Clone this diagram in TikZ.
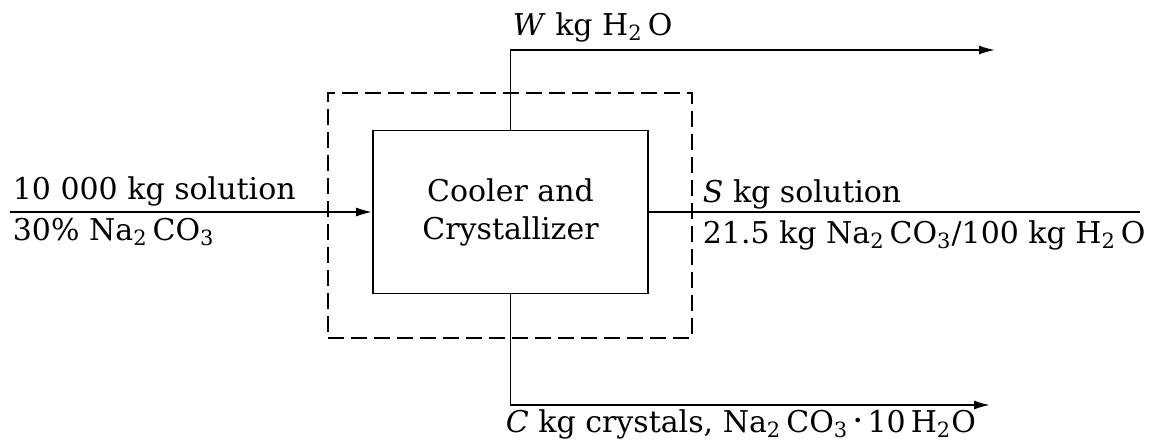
\documentclass[tikz,border=0pt]{standalone}
\usepackage{fontspec}
\setmainfont{DejaVu Serif}
\usetikzlibrary{arrows.meta}

\begin{document}
\begin{tikzpicture}[x=0.5pt,y=-0.5pt,line width=0.9pt,>={Latex[length=8pt,width=4.5pt]},
  lbl/.style={font=\fontsize{15}{19}\selectfont,inner sep=0pt}]
  \useasboundingbox (0,0) rectangle (1155,447);
  \node[draw,lbl,align=center,minimum width=137.5pt,minimum height=81.5pt] (unit) at (510.5,212) {Cooler and\\Crystallizer};
  \node[draw,dashed,dash pattern=on 8pt off 3.5pt,minimum width=182pt,minimum height=122.5pt] (cv) at (510,215.5) {};
  \coordinate (feed) at (10,212); \coordinate (wtip) at (995,50);
  \coordinate (stip) at (1140,212); \coordinate (ctip) at (990,405);
  \draw[->] (feed) -- (unit.west);
  \draw[->] (unit.north) |- (wtip);
  \draw (unit.east) -- (stip);
  \draw[->] (unit.south) |- (ctip);
  \node[lbl,anchor=base west] (feedtop) at (12,199) {10 000 kg solution};
  \node[lbl,anchor=base west] (feedbot) at (12,240) {30\% Na\textsubscript{2}\,CO\textsubscript{3}};
  \node[lbl,anchor=base west] (wlbl) at (512,35) {\textit{W} kg H\textsubscript{2}\,O};
  \node[lbl,anchor=base west] (slbl) at (702,202) {\textit{S} kg solution};
  \node[lbl,anchor=base west] (sbot) at (702,243) {21.5 kg Na\textsubscript{2}\,CO\textsubscript{3}/100 kg H\textsubscript{2}\,O};
  \node[lbl,anchor=base west] (clbl) at (505,432) {\textit{C} kg crystals, Na\textsubscript{2}\,CO\textsubscript{3}\,\raisebox{0.35ex}{\footnotesize\textbullet}\,10\,H\textsubscript{2}O};
\end{tikzpicture}
\end{document}
